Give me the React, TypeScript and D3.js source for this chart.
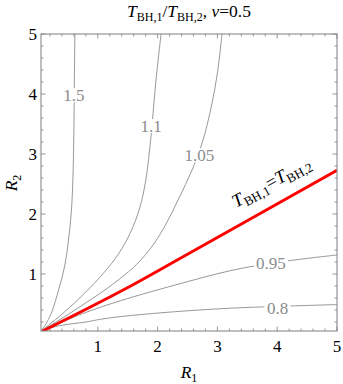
import React from "react";
import * as d3 from "d3";

// contour levels and their curves, as [R1, R2] pairs
const levels = ["1.5", "1.1", "1.05", "0.95", "0.8"];

const c150: [number, number][] = [
  [0.05, 0.05], [0.15, 0.2], [0.232, 0.372], [0.344, 0.733], [0.45, 1.15],
  [0.51, 1.567], [0.556, 2.02], [0.583, 2.57], [0.6, 3.4], [0.608, 4.2], [0.616, 5],
];
const c110: [number, number][] = [
  [0.05, 0.05], [0.4, 0.33], [0.8, 0.7], [1.1, 1.02], [1.35, 1.34], [1.55, 1.7],
  [1.7, 2.1], [1.8, 2.55], [1.89, 3.3], [1.97, 4.2], [2.058, 5],
];
const c105: [number, number][] = [
  [0.05, 0.05], [0.4, 0.26], [0.8, 0.52], [1.1, 0.72], [1.379, 0.93], [1.65, 1.16],
  [1.935, 1.5], [2.15, 1.85], [2.35, 2.25], [2.576, 2.733], [2.75, 3.2], [2.9, 3.8],
  [3.0, 4.35], [3.077, 5],
];
const c095: [number, number][] = [
  [0.05, 0.05], [0.344, 0.175], [0.8, 0.36], [1.379, 0.555], [2.297, 0.817],
  [3.215, 1.055], [3.9, 1.18], [4.5, 1.26], [5, 1.317],
];
const c080: [number, number][] = [
  [0.05, 0.05], [0.344, 0.135], [0.8, 0.2], [1.045, 0.245], [1.379, 0.29],
  [2.297, 0.372], [3.215, 0.43], [4, 0.46], [5, 0.49],
];
const contours = [c150, c110, c105, c095, c080];

// where Mathematica put the level labels
const labelPos: [number, number][] = [
  [0.599, 3.98], [1.891, 3.467], [2.698, 2.983], [3.895, 1.183], [4.005, 0.433],
];

// T_BH,1 = T_BH,2 line
const equalLine: [number, number][] = [[0.08, 0.05], [1.4, 0.72], [2.5, 1.33], [5, 2.73]];

const majorTicks = [1, 2, 3, 4, 5];
const minorTicks = d3.range(1, 25).map((i) => i * 0.2).filter((v) => Math.abs(v - Math.round(v)) > 0.01);

const serif = "'Liberation Serif', 'Times New Roman', 'DejaVu Serif', serif";

export default function App() {
  const width = 343;
  const height = 384;
  const left = 41, right = 337, top = 34, bottom = 331;

  const x = d3.scaleLinear().domain([0.05, 5]).range([left, right]);
  const y = d3.scaleLinear().domain([0.05, 5]).range([bottom, top]);

  const line = d3
    .line<[number, number]>()
    .x((d) => x(d[0]))
    .y((d) => y(d[1]))
    .curve(d3.curveCatmullRom.alpha(0.5));

  const frameColor = "#7f7f7f";
  const sub = { fontSize: 12, fontStyle: "normal" } as const;
  const subBig = { fontSize: 13, fontStyle: "normal" } as const;

  return (
    <svg width={width} height={height} style={{ position: "absolute", left: 0, top: 0, fontFamily: serif }}>
      <defs>
        <clipPath id="plot">
          <rect x={left} y={top} width={right - left} height={bottom - top} />
        </clipPath>
      </defs>

      {/* title */}
      <text x={189} y={17} fontSize={17.5} textAnchor="middle">
        <tspan fontStyle="italic">T</tspan>
        <tspan {...sub} dy={4}>BH,1</tspan>
        <tspan dy={-4}>/</tspan>
        <tspan fontStyle="italic">T</tspan>
        <tspan {...sub} dy={4}>BH,2</tspan>
        <tspan dy={-4}>, </tspan>
        <tspan fontStyle="italic">ν</tspan>
        <tspan>=0.5</tspan>
      </text>

      <g clipPath="url(#plot)">
        {/* contour curves */}
        {contours.map((c, i) => (
          <path key={i} d={line(c) ?? ""} fill="none" stroke="#8c8c8c" strokeWidth={0.9} />
        ))}
        {/* level labels with white boxes over the curves */}
        {levels.map((lv, i) => {
          const cx = x(labelPos[i][0]);
          const cy = y(labelPos[i][1]);
          const w = lv.length * 8;
          return (
            <g key={lv}>
              <rect x={cx - w / 2 - 1} y={cy - 7} width={w + 2} height={14} fill="white" />
              <text x={cx} y={cy + 6} fontSize={17} fill="#8c8c8c" textAnchor="middle">
                {lv}
              </text>
            </g>
          );
        })}
        {/* equal temperature line */}
        <path d={line(equalLine) ?? ""} fill="none" stroke="#ff0000" strokeWidth={3} />
      </g>

      <text x={236} y={208} fontSize={18.5} transform="rotate(-28.5 236 208)">
        <tspan fontStyle="italic">T</tspan>
        <tspan {...subBig} dy={4}>BH,1</tspan>
        <tspan dy={-4}>=</tspan>
        <tspan fontStyle="italic">T</tspan>
        <tspan {...subBig} dy={4}>BH,2</tspan>
      </text>

      {/* frame */}
      <rect x={left} y={top} width={right - left} height={bottom - top} fill="none" stroke={frameColor} strokeWidth={1} />

      {/* ticks, inward on all four sides */}
      {[...majorTicks.map((v) => [v, 4.5]), ...minorTicks.map((v) => [v, 2.5])].map(([v, len], i) => (
        <g key={i} stroke={frameColor} strokeWidth={0.8}>
          <line x1={x(v)} x2={x(v)} y1={bottom} y2={bottom - len} />
          <line x1={x(v)} x2={x(v)} y1={top} y2={top + len} />
          <line x1={left} x2={left + len} y1={y(v)} y2={y(v)} />
          <line x1={right} x2={right - len} y1={y(v)} y2={y(v)} />
        </g>
      ))}

      {/* tick labels */}
      {majorTicks.map((v) => (
        <text key={`x${v}`} x={x(v)} y={352} fontSize={17} textAnchor="middle">
          {v}
        </text>
      ))}
      {majorTicks.map((v) => (
        <text key={`y${v}`} x={37} y={y(v) + 6} fontSize={17} textAnchor="end">
          {v}
        </text>
      ))}

      {/* axis titles */}
      <text x={189} y={378} fontSize={17.5} textAnchor="middle">
        <tspan fontStyle="italic">R</tspan>
        <tspan {...sub} dy={4}>1</tspan>
      </text>
      <text x={0} y={0} fontSize={17.5} textAnchor="middle" transform="translate(17 183) rotate(-90)">
        <tspan fontStyle="italic">R</tspan>
        <tspan {...sub} dy={4}>2</tspan>
      </text>
    </svg>
  );
}
